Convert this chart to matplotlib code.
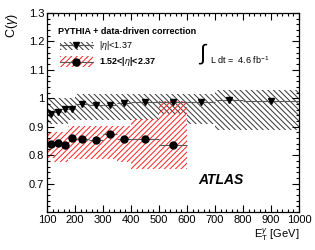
import numpy as np
import matplotlib
matplotlib.use('Agg')
from matplotlib import pyplot as plt
from matplotlib.patches import Rectangle
from matplotlib.ticker import MultipleLocator

plt.rcParams['font.family'] = ['Liberation Sans', 'DejaVu Sans']
plt.rcParams['mathtext.fontset'] = 'custom'
plt.rcParams['mathtext.rm'] = 'Liberation Sans'
plt.rcParams['mathtext.it'] = 'Liberation Sans:italic'
plt.rcParams['hatch.linewidth'] = 0.7

# bin edges in E_T (GeV)
edges = np.array([100, 125, 150, 175, 200, 250, 300, 350, 400, 500, 600, 700, 800, 1000])

# |eta| < 1.37 : central values and systematic band
c_central = [0.946, 0.951, 0.963, 0.963, 0.981, 0.977, 0.975, 0.983, 0.987, 0.987, 0.987, 0.995, 0.990]
band_c_lo = [0.910, 0.910, 0.910, 0.922, 0.922, 0.922, 0.922, 0.922, 0.925, 0.945, 0.911, 0.887, 0.887]
band_c_hi = [1.000, 1.000, 1.000, 1.000, 1.014, 1.014, 1.014, 1.014, 1.014, 1.014, 1.014, 1.028, 1.028]

# 1.52 < |eta| < 2.37 (up to 600 GeV)
f_central = [0.840, 0.842, 0.837, 0.861, 0.857, 0.854, 0.875, 0.857, 0.857, 0.837]
band_f_lo = [0.790, 0.775, 0.775, 0.786, 0.786, 0.786, 0.786, 0.775, 0.752, 0.752]
band_f_hi = [0.881, 0.881, 0.881, 0.902, 0.902, 0.902, 0.902, 0.902, 0.928, 0.990]

centers = 0.5 * (edges[:-1] + edges[1:])
widths = np.diff(edges)
nf = len(f_central)

hatch_c = '\\' * 6
hatch_f = '/' * 6

fig = plt.figure(figsize=(3.15, 2.5), dpi=100)
ax = fig.add_axes([47 / 315, 1 - 212 / 250, 252 / 315, 199 / 250])

ax.bar(edges[:-1], np.array(band_c_hi) - np.array(band_c_lo), bottom=band_c_lo,
       width=widths, align='edge', fill=False, hatch=hatch_c, edgecolor='0.2', linewidth=0)
ax.bar(edges[:nf], np.array(band_f_hi) - np.array(band_f_lo), bottom=band_f_lo,
       width=widths[:nf], align='edge', fill=False, hatch=hatch_f, edgecolor='#ff2020', linewidth=0)

ax.errorbar(centers, c_central, xerr=widths / 2, fmt='v', color='black', ms=5,
            ecolor='0.35', elinewidth=0.8, capsize=0)
ax.errorbar(centers[:nf], f_central, xerr=widths[:nf] / 2, fmt='o', color='black', ms=5,
            ecolor='0.35', elinewidth=0.8, capsize=0)

ax.set_xlim(100, 1000)
ax.set_ylim(0.6, 1.3)
ax.xaxis.set_major_locator(MultipleLocator(100))
ax.xaxis.set_minor_locator(MultipleLocator(20))
ax.yaxis.set_major_locator(MultipleLocator(0.1))
ax.yaxis.set_minor_locator(MultipleLocator(0.02))
ax.tick_params(which='both', direction='in', top=True, right=True, labelsize=8, width=0.8)
ax.tick_params(which='major', length=5)
ax.tick_params(which='minor', length=2.5)
ax.tick_params(axis='x', pad=2)
ax.tick_params(axis='y', pad=2)
ax.set_yticks([0.7, 0.8, 0.9, 1.0, 1.1, 1.2, 1.3])
ax.set_yticklabels(['0.7', '0.8', '0.9', '1', '1.1', '1.2', '1.3'])
for sp in ax.spines.values():
    sp.set_linewidth(0.9)

fig.text(12 / 315, 1 - 13 / 250, r'C($\gamma$)', rotation=90, ha='center', va='top', fontsize=9)
fig.text(299 / 315, 1 - 235 / 250, r'E$_{\rm T}^{\gamma}$ [GeV]', ha='right', va='center', fontsize=8)

# legend
ax.text(0.044, 0.905, 'PYTHIA + data-driven correction', transform=ax.transAxes,
        fontsize=6.5, fontweight='bold', va='center')
ax.add_patch(Rectangle((0.052, 0.814), 0.131, 0.042, transform=ax.transAxes, fill=False,
                       hatch=hatch_c, edgecolor='0.2', linewidth=0))
ax.add_patch(Rectangle((0.052, 0.730), 0.131, 0.054, transform=ax.transAxes, fill=False,
                       hatch=hatch_f, edgecolor='#ff2020', linewidth=0))
ax.plot([0.052, 0.183], [0.838, 0.838], transform=ax.transAxes, color='0.35', lw=0.8)
ax.plot([0.052, 0.183], [0.754, 0.754], transform=ax.transAxes, color='0.35', lw=0.8)
ax.plot([0.117], [0.838], 'v', color='black', ms=5, transform=ax.transAxes)
ax.plot([0.117], [0.754], 'o', color='black', ms=5, transform=ax.transAxes)
ax.text(0.206, 0.838, r'|$\eta$|<1.37', transform=ax.transAxes, fontsize=6.5, va='center')
ax.text(0.206, 0.754, r'1.52<|$\eta$|<2.37', transform=ax.transAxes, fontsize=6.5,
        va='center', fontweight='bold')

ax.text(0.62, 0.79, r'$\int$', transform=ax.transAxes, fontsize=16, ha='center', va='center',
        family='DejaVu Sans')
ax.text(0.647, 0.764, r'L dt =  4.6 fb$^{-1}$', transform=ax.transAxes, fontsize=6.5, va='center')

ax.text(0.599, 0.161, 'ATLAS', transform=ax.transAxes, fontsize=10, fontweight='bold',
        fontstyle='italic', va='center')

fig.savefig('out.png', dpi=100)
